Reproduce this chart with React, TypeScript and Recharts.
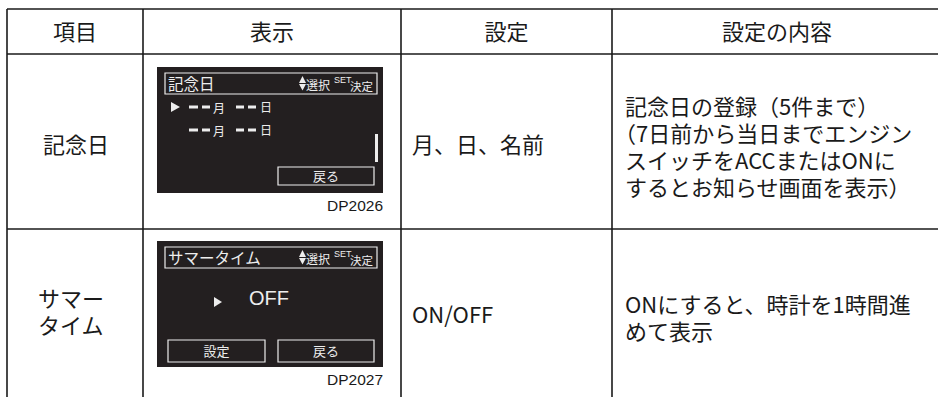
import React from "react";
import { Surface, Layer, Text, Rectangle, Polygon } from "recharts";

// table content
const headers = ["項目", "表示", "設定", "設定の内容"];
const items = [["記念日"], ["サマー", "タイム"]];
const settings = ["月、日、名前", "ON/OFF"];
const contents = [
  [
    "記念日の登録（5件まで）",
    "（7日前から当日までエンジン",
    "スイッチをACCまたはONに",
    "するとお知らせ画面を表示）",
  ],
  ["ONにすると、時計を1時間進", "めて表示"],
];

// screen captures
const screenTitles = ["記念日", "サマータイム"];
const screenCodes = ["DP2026", "DP2027"];
const dateLabels = ["月", "日"];
const summerValue = "OFF";
const screenButtons = [["戻る"], ["設定", "戻る"]];
const hintLabels = ["選択", "SET", "決定"];

const W = 938;
const H = 397;
const colX = [7, 143, 401, 612, 942];
const rowY = [9, 54, 229];
const itemTop = [145, 299];
const settingY = [145, 315];
const contentTop = [107, 305];
const LINE = 27;
const FS = 22;
const screenTop = [67, 241];

const JP = '"Noto Sans CJK JP", "Noto Sans", sans-serif';
const LAT = '"Liberation Sans", Arial, sans-serif';
const INK = "#1a1a1a";
const LCD = "#231f20";
const PIX = "#ededed";

// several lines in one text element; a leading full-width bracket hangs left
function Lines({ x, y, lines, anchor = "start" }: { x: number; y: number; lines: string[]; anchor?: "start" | "middle" }) {
  return (
    <text x={x} y={y + FS * 0.36} fontSize={FS} fill={INK} fontFamily={JP} textAnchor={anchor}>
      {lines.map((t, k) => (
        <tspan key={k} x={t.startsWith("（") ? x - FS / 2 : x} dy={k === 0 ? 0 : LINE}>
          {t}
        </tspan>
      ))}
    </text>
  );
}

function HintBar({ top }: { top: number }) {
  return (
    <Layer>
      <Polygon
        points={[
          { x: 299, y: top + 16 },
          { x: 306, y: top + 16 },
          { x: 302.5, y: top + 9 },
        ]}
        fill={PIX}
      />
      <Polygon
        points={[
          { x: 299, y: top + 17 },
          { x: 306, y: top + 17 },
          { x: 302.5, y: top + 23.5 },
        ]}
        fill={PIX}
      />
      <Text x={306} y={top + 19} verticalAnchor="middle" fontSize={12} fill={PIX} fontFamily={JP}>
        {hintLabels[0]}
      </Text>
      <Text x={334} y={top + 12.5} verticalAnchor="middle" fontSize={9} fill={PIX} fontFamily={LAT}>
        {hintLabels[1]}
      </Text>
      <Text x={350} y={top + 19.5} verticalAnchor="middle" fontSize={11.5} fill={PIX} fontFamily={JP}>
        {hintLabels[2]}
      </Text>
    </Layer>
  );
}

function ScreenButton({ x1, x2, y1, y2, label }: { x1: number; x2: number; y1: number; y2: number; label: string }) {
  return (
    <Layer>
      <Rectangle x={x1} y={y1} width={x2 - x1} height={y2 - y1} fill="none" stroke={PIX} strokeWidth={1.2} />
      <Text
        x={(x1 + x2) / 2}
        y={(y1 + y2) / 2 + 0.5}
        textAnchor="middle"
        verticalAnchor="middle"
        fontSize={13}
        fill={PIX}
        fontFamily={JP}
      >
        {label}
      </Text>
    </Layer>
  );
}

function ScreenFrame({ idx, children }: { idx: number; children: React.ReactNode }) {
  const top = screenTop[idx];
  return (
    <Layer>
      <Rectangle x={157} y={top} width={226} height={126} fill={LCD} />
      <Rectangle x={165} y={top + 6} width={212} height={21} fill="none" stroke={PIX} strokeWidth={1.2} />
      <Text x={168} y={top + 17} verticalAnchor="middle" fontSize={15.5} fill={PIX} fontFamily={JP}>
        {screenTitles[idx]}
      </Text>
      <HintBar top={top} />
      {children}
      <Text
        x={383}
        y={top + 138.5}
        textAnchor="end"
        verticalAnchor="middle"
        fontSize={15.5}
        fill={INK}
        fontFamily={LAT}
      >
        {screenCodes[idx]}
      </Text>
    </Layer>
  );
}

function DateRow({ y }: { y: number }) {
  const dashes = [
    [189, 198],
    [202, 210],
    [236, 244],
    [248, 256],
  ];
  return (
    <Layer>
      {dashes.map(([a, b], i) => (
        <Rectangle key={i} x={a} y={y - 1.5} width={b - a} height={3} fill={PIX} />
      ))}
      <Text x={213} y={y + 2} verticalAnchor="middle" fontSize={12} fill={PIX} fontFamily={JP}>
        {dateLabels[0]}
      </Text>
      <Text x={260} y={y + 1} verticalAnchor="middle" fontSize={12} fill={PIX} fontFamily={JP}>
        {dateLabels[1]}
      </Text>
    </Layer>
  );
}

function AnniversaryScreen() {
  const top = screenTop[0];
  return (
    <ScreenFrame idx={0}>
      <Polygon
        points={[
          { x: 171, y: top + 35 },
          { x: 171, y: top + 45 },
          { x: 180, y: top + 40 },
        ]}
        fill={PIX}
      />
      <DateRow y={top + 40} />
      <DateRow y={top + 63} />
      <Rectangle x={375} y={top + 67} width={3} height={28} fill={PIX} />
      <ScreenButton x1={278} x2={374} y1={top + 100} y2={top + 118} label={screenButtons[0][0]} />
    </ScreenFrame>
  );
}

function SummerScreen() {
  const top = screenTop[1];
  return (
    <ScreenFrame idx={1}>
      <Polygon
        points={[
          { x: 214, y: top + 56 },
          { x: 214, y: top + 66 },
          { x: 222, y: top + 61 },
        ]}
        fill={PIX}
      />
      <Text x={249} y={top + 57} verticalAnchor="middle" fontSize={20} fill={PIX} fontFamily={LAT}>
        {summerValue}
      </Text>
      <ScreenButton x1={168} x2={265} y1={top + 99} y2={top + 121} label={screenButtons[1][0]} />
      <ScreenButton x1={278} x2={374} y1={top + 99} y2={top + 121} label={screenButtons[1][1]} />
    </ScreenFrame>
  );
}

export default function App() {
  return (
    <div style={{ position: "absolute", left: 0, top: 0, width: W, height: H, background: "#fff" }}>
      <Surface width={W} height={H} viewBox={{ x: 0, y: 0, width: W, height: H }}>
        <Rectangle x={0} y={0} width={W} height={H} fill="#fff" />

        {/* grid */}
        {rowY.map((y) => (
          <line key={`h${y}`} x1={colX[0]} x2={W} y1={y} y2={y} stroke={INK} strokeWidth={1.6} />
        ))}
        {colX.slice(0, 4).map((x) => (
          <line key={`v${x}`} x1={x} x2={x} y1={rowY[0]} y2={H} stroke={INK} strokeWidth={1.6} />
        ))}

        {/* header */}
        {headers.map((h, i) => (
          <Text
            key={h}
            x={(colX[i] + colX[i + 1]) / 2}
            y={32}
            textAnchor="middle"
            verticalAnchor="middle"
            fontSize={FS}
            fill={INK}
            fontFamily={JP}
          >
            {h}
          </Text>
        ))}

        {/* item column */}
        {items.map((lines, r) =>
          lines.length > 1 ? (
            <Lines key={`i${r}`} x={38} y={itemTop[r]} lines={lines} />
          ) : (
            <Lines key={`i${r}`} x={(colX[0] + colX[1]) / 2 + 1} y={itemTop[r]} lines={lines} anchor="middle" />
          )
        )}

        <AnniversaryScreen />
        <SummerScreen />

        {/* setting column */}
        {settings.map((s, r) => (
          <Lines key={`s${r}`} x={412} y={settingY[r]} lines={[s]} />
        ))}

        {/* description column */}
        {contents.map((lines, r) => (
          <Lines key={`c${r}`} x={625} y={contentTop[r]} lines={lines} />
        ))}
      </Surface>
    </div>
  );
}
